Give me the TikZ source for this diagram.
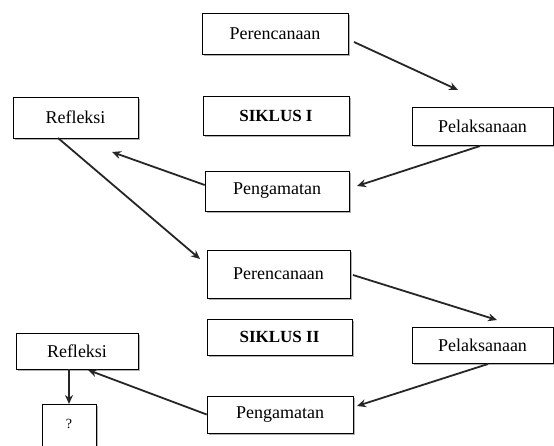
\documentclass[tikz,border=0pt]{standalone}
\usepackage{fontspec}
\setmainfont{Liberation Serif}
\usetikzlibrary{arrows.meta,shadows}
\begin{document}
\begin{tikzpicture}[x=1pt,y=-1pt,
  box/.style={draw=black,line width=0.6pt,fill=white,inner sep=0pt,
    font=\fontsize{18}{21}\selectfont,
    drop shadow={shadow xshift=1.8pt,shadow yshift=-1.8pt,fill=gray!60,opacity=1}},
  conn/.style={draw=black!85,line width=1.8pt,-{Stealth[length=9pt,width=8pt]}}]
\useasboundingbox (0,0) rectangle (554,445);
\begin{scope}
\clip (0,0) rectangle (554,445);
\node[box,minimum width=146pt,minimum height=41pt] (per1) at (275,34) {Perencanaan};
\node[box,minimum width=146pt,minimum height=39pt,font=\fontsize{17}{20}\selectfont\bfseries] (sik1) at (276,116) {SIKLUS I};
\node[box,minimum width=125pt,minimum height=41pt] (ref1) at (75.5,117.5) {Refleksi};
\node[box,minimum width=141pt,minimum height=38pt] (pel1) at (482.5,126) {Pelaksanaan};
\node[box,minimum width=144pt,minimum height=40pt] (pen1) at (277,191) {Pengamatan};
\node[box,minimum width=143pt,minimum height=48pt] (per2) at (278.5,274) {Perencanaan};
\node[box,minimum width=145pt,minimum height=36pt,font=\fontsize{17}{20}\selectfont\bfseries] (sik2) at (279.5,337) {SIKLUS II};
\node[box,minimum width=141pt,minimum height=36pt] (pel2) at (482.5,345) {Pelaksanaan};
\node[box,minimum width=146pt,minimum height=37pt] (pen2) at (280,414.5) {Pengamatan};
\node[box,minimum width=122pt,minimum height=36pt] (ref2) at (77,351) {Refleksi};
\node[box,minimum width=54pt,minimum height=56pt,anchor=north,font=\fontsize{14}{16}\selectfont] (q) at (69,404) {\raisebox{16pt}{?}};
\coordinate (a1s) at (354,42);
\coordinate (a1e) at (458,90);
\coordinate (a2s) at (480,146);
\coordinate (a2e) at (357,186);
\coordinate (a3e) at (112,152);
\coordinate (a4s) at (58,138);
\coordinate (a4e) at (200,259);
\coordinate (a5s) at (353,275);
\coordinate (a5e) at (497,320);
\coordinate (a6s) at (488,364);
\coordinate (a6e) at (357,406);
\coordinate (a7e) at (88,370);
\draw[conn] (a1s) -- (a1e);
\draw[conn] (a2s) -- (a2e);
\draw[conn] (pen1.west) ++(0,-6) -- (a3e);
\draw[conn] (a4s) -- (a4e);
\draw[conn] (a5s) -- (a5e);
\draw[conn] (a6s) -- (a6e);
\draw[conn] (pen2.west) -- (a7e);
\draw[conn] (ref2.south -| q.north) -- (q.north);
\end{scope}
\end{tikzpicture}
\end{document}
